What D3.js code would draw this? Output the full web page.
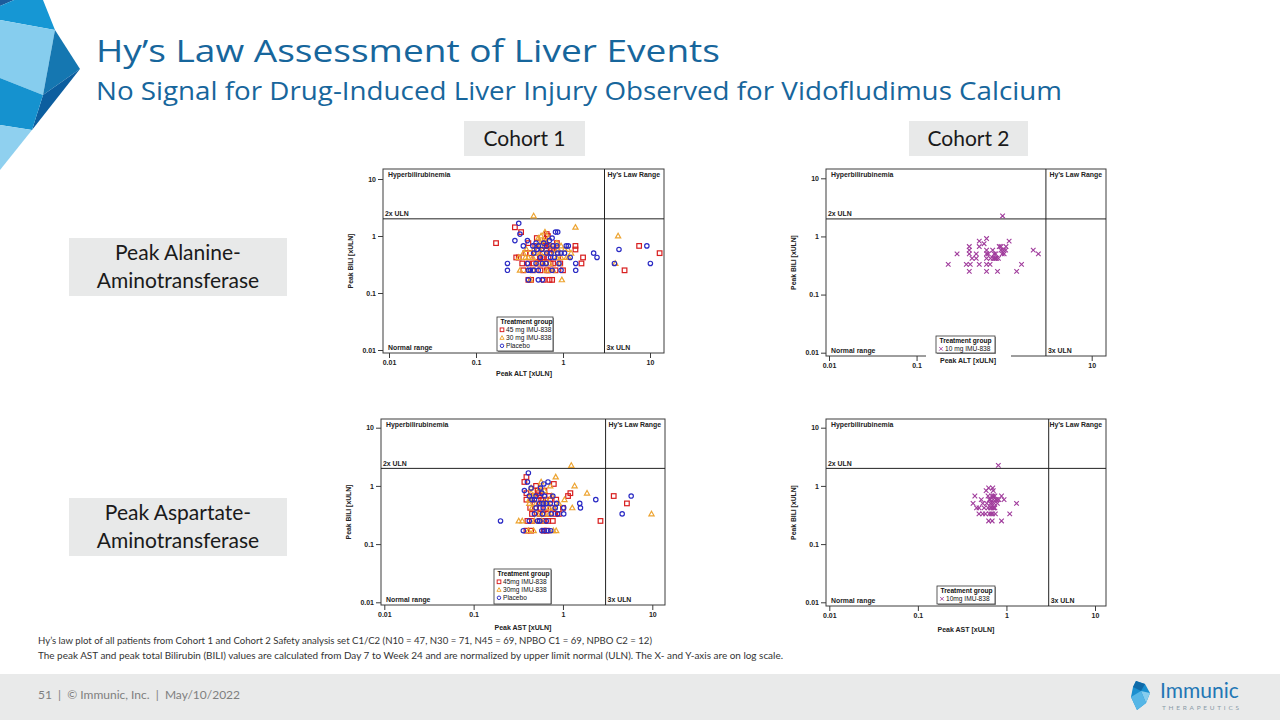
<!DOCTYPE html>
<html>
<head>
<meta charset="utf-8">
<script src="https://cdn.jsdelivr.net/npm/d3@7"></script>
<style>
body { margin: 0; background: #fff; }
svg { display: block; }
</style>
</head>
<body>
<div id="main"></div>
<script>
// axis ticks (log scale, xULN)
var tickValues = [0.01, 0.1, 1, 10];
var tickLabels = ["0.01", "0.1", "1", "10"];

// Cohort 1, peak ALT vs peak BILI  [ALT xULN, BILI xULN]
var c1Alt45 = [[0.17,0.75],[0.28,1.42],[0.33,1.17],[0.40,0.75],[0.29,0.42],[0.31,0.42],[0.34,0.33],[0.35,0.25],[0.40,0.17],[0.43,0.17],
  [0.37,0.5],[0.42,0.5],[0.48,0.67],[0.55,0.67],[0.50,0.92],[0.65,1.08],[0.67,1.0],[0.65,0.58],[0.72,0.58],[0.78,0.58],
  [0.85,0.58],[0.55,0.42],[0.60,0.42],[0.68,0.42],[0.46,0.33],[0.55,0.33],[0.63,0.33],[0.77,0.33],[0.93,0.33],[0.55,0.25],
  [0.68,0.25],[0.82,0.25],[1.0,0.25],[0.70,0.17],[0.75,0.17],[1.39,0.67],[1.39,0.58],[1.70,0.42],[1.63,0.33],[0.85,0.75],
  [0.62,0.83],[0.58,0.5],[0.70,0.5],[0.52,0.58],[0.45,0.25],[7.5,0.67],[12.9,0.5],[5.1,0.25],[0.62,0.75],[0.48,0.42],
  [0.75,0.67],[0.40,0.33],[0.60,0.17],[0.62,0.67],[0.68,0.67],[0.52,0.33],[0.58,0.42],[0.88,0.42],[0.65,0.25],[0.72,0.33]];
var c1Alt30 = [[0.46,2.25],[1.39,1.42],[0.56,1.0],[0.62,1.17],[0.35,0.5],[0.38,0.58],[0.31,0.42],[0.37,0.42],[0.40,0.42],[0.46,0.58],
  [0.60,0.83],[0.52,0.92],[0.85,0.75],[0.95,0.67],[1.14,0.58],[1.24,0.5],[1.16,0.42],[0.85,0.42],[0.95,0.42],[0.32,0.25],
  [0.39,0.25],[0.46,0.25],[0.50,0.33],[0.60,0.33],[0.65,0.25],[0.77,0.25],[0.42,0.17],[0.97,0.17],[4.0,0.33],[4.3,1.0],
  [0.55,0.75],[0.65,0.5],[0.72,0.67],[0.78,0.5],[0.55,0.5],[0.50,0.67],[0.68,0.92],[0.45,0.42],[0.70,0.33],[0.88,0.58],
  [1.05,0.58],[0.58,0.58],[0.48,0.5],[0.90,0.33],[1.10,0.42]];
var c1AltPbo = [[0.31,1.67],[0.32,1.08],[0.28,0.83],[0.35,0.67],[0.23,0.33],[0.23,0.25],[0.39,0.83],[0.49,0.75],[0.75,0.92],[0.82,1.17],
  [0.87,1.17],[0.65,0.67],[0.77,0.67],[0.85,0.67],[0.50,0.58],[0.57,0.58],[0.65,0.5],[0.73,0.5],[0.87,0.5],[0.95,0.5],
  [1.04,0.5],[0.55,0.42],[0.39,0.33],[0.49,0.33],[0.64,0.33],[0.40,0.25],[0.42,0.25],[0.46,0.25],[1.40,0.33],[1.40,0.25],
  [2.25,0.5],[2.46,0.42],[1.21,0.42],[0.40,0.17],[0.52,0.17],[0.58,0.17],[1.09,0.67],[4.4,0.58],[9.2,0.67],[10.1,0.33],
  [3.9,0.33],[0.45,0.67],[0.52,0.67],[0.72,0.42],[0.80,0.42],[0.58,0.33],[0.52,0.25],[0.75,0.25],[0.90,0.33],[0.46,0.5],
  [0.60,0.75],[0.70,0.83],[1.15,0.67],[0.95,0.25]];

// Cohort 1, peak AST vs peak BILI
var c1Ast45 = [[0.39,1.42],[0.37,1.17],[0.39,0.75],[0.39,0.58],[0.50,1.0],[0.53,0.75],[0.47,0.67],[0.55,0.67],[0.57,0.58],[0.60,0.58],
  [0.79,1.08],[1.21,0.75],[1.14,0.67],[0.84,0.58],[0.43,0.42],[0.55,0.42],[0.65,0.42],[0.77,0.42],[0.45,0.33],[0.55,0.33],
  [0.68,0.33],[0.82,0.33],[0.90,0.33],[0.40,0.25],[0.45,0.25],[0.55,0.25],[0.68,0.25],[0.77,0.25],[0.39,0.17],[0.44,0.17],
  [0.61,0.17],[2.63,0.25],[3.7,0.67],[5.2,0.5],[0.62,0.83],[0.65,0.5],[0.48,0.5],[0.58,0.5],[0.72,0.58],[0.50,0.42],
  [0.60,0.33],[0.62,0.25],[0.66,0.17],[0.52,0.83],[0.45,0.58],[0.70,0.67],[1.0,0.42]];
var c1Ast30 = [[1.24,2.25],[0.83,1.42],[0.57,1.17],[1.35,1.0],[1.86,0.75],[1.04,0.58],[1.27,0.42],[0.32,0.25],[0.35,0.25],[0.41,0.17],
  [0.84,0.17],[0.50,0.5],[0.65,0.58],[0.72,1.0],[0.45,0.42],[0.58,0.5],[0.70,0.42],[0.80,0.42],[0.61,0.33],[0.70,0.33],
  [0.48,0.25],[0.58,0.25],[9.8,0.33],[0.44,0.75],[0.47,0.67],[0.44,0.92],[0.55,0.92],[0.75,0.67],[0.42,0.5],[0.52,0.33],
  [0.62,0.83],[0.90,0.5],[0.47,0.17],[0.78,0.17],[0.42,0.58],[0.68,0.5]];
var c1AstPbo = [[0.41,1.67],[0.40,1.17],[0.68,1.17],[0.61,1.08],[0.37,0.83],[0.44,0.92],[0.58,0.75],[0.77,0.67],[0.20,0.25],[0.36,0.17],
  [0.68,0.17],[0.73,0.17],[1.54,0.5],[1.57,0.42],[2.33,0.58],[1.02,0.42],[1.02,0.33],[0.55,0.5],[0.60,0.5],[0.65,0.5],
  [0.48,0.33],[0.59,0.33],[0.74,0.33],[0.52,0.25],[0.55,0.25],[0.65,0.25],[0.87,0.33],[4.6,0.33],[5.8,0.67],[0.42,0.67],
  [0.50,0.67],[0.62,0.67],[0.45,0.58],[0.72,0.5],[0.82,0.42],[0.60,0.42],[0.50,0.42],[0.42,0.25],[0.58,0.17],[0.62,0.17],
  [0.85,0.5],[0.48,0.58],[0.56,0.92]];

// Cohort 2 (10 mg), peak ALT / peak AST vs peak BILI
var c2Alt10 = [[0.96,2.25],[0.23,0.33],[0.29,0.5],[0.37,0.33],[0.41,0.33],[0.40,0.67],[0.40,0.58],[0.40,0.5],[0.40,0.25],[0.43,0.42],
  [0.48,0.5],[0.48,0.42],[0.52,0.83],[0.52,0.67],[0.52,0.33],[0.59,0.75],[0.63,0.92],[0.63,0.58],[0.63,0.5],[0.63,0.42],
  [0.63,0.33],[0.69,0.33],[0.63,0.25],[0.74,0.58],[0.77,0.5],[0.80,0.5],[0.75,0.42],[0.78,0.42],[0.82,0.42],[0.86,0.42],
  [0.84,0.25],[0.88,0.67],[0.92,0.58],[0.98,0.58],[1.04,0.58],[1.05,0.67],[1.0,0.5],[1.14,0.83],[1.39,0.25],[1.58,0.33],
  [2.15,0.58],[2.46,0.5],[0.70,0.42],[0.95,0.5],[0.66,0.5],[0.80,0.42],[0.92,0.67]];
var c2Ast10 = [[0.81,2.25],[0.44,0.67],[0.42,0.5],[0.46,0.42],[0.49,0.42],[0.49,0.33],[0.54,0.33],[0.58,0.33],[0.52,0.58],[0.54,0.5],
  [0.59,0.83],[0.63,0.92],[0.62,0.67],[0.64,0.58],[0.66,0.5],[0.66,0.42],[0.62,0.42],[0.64,0.33],[0.67,0.33],[0.70,0.33],
  [0.63,0.25],[0.69,0.25],[0.71,0.83],[0.71,0.67],[0.71,0.58],[0.73,0.5],[0.76,0.58],[0.71,0.42],[0.72,0.42],[0.78,0.58],
  [0.79,0.5],[0.88,0.25],[0.88,0.67],[0.94,0.58],[1.09,0.33],[1.30,0.5],[0.68,0.67],[0.69,0.5],[0.74,0.42],[0.60,0.5],
  [0.66,0.58],[0.75,0.33],[0.70,0.92],[0.82,0.58],[0.56,0.42],[0.74,0.67],[0.68,0.42]];

var svg = d3.select("#main").append("svg")
  .attr("width", 1280)
  .attr("height", 720);

svg.append("rect").attr("width", 1280).attr("height", 720).attr("fill", "#fff");

// corner decoration (faceted logo shape)
var facets = [
  {pts: "0,0 14,0 0,6", c: "#1c5c9c"},
  {pts: "0,6 14,0 43,0 55,30 0,20", c: "#1697d4"},
  {pts: "0,20 55,30 43,95 0,78", c: "#86cdee"},
  {pts: "55,30 80,69 43,95", c: "#1577b1"},
  {pts: "80,69 43,95 32,130", c: "#0c5e9f"},
  {pts: "0,78 43,95 32,130 0,125", c: "#1592cf"},
  {pts: "0,125 32,130 0,170", c: "#8fd0ef"}
];
svg.selectAll("polygon.facet").data(facets).enter().append("polygon")
  .attr("class", "facet")
  .attr("points", function(d) { return d.pts; })
  .attr("fill", function(d) { return d.c; });

// titles
svg.append("text").attr("x", 96).attr("y", 62)
  .attr("font-family", "Open Sans").attr("font-size", 31).attr("fill", "#17669c")
  .attr("textLength", 624).attr("lengthAdjust", "spacingAndGlyphs")
  .text("Hy\u2019s Law Assessment of Liver Events");
svg.append("text").attr("x", 96).attr("y", 100)
  .attr("font-family", "Open Sans").attr("font-size", 25).attr("fill", "#17669c")
  .attr("textLength", 966).attr("lengthAdjust", "spacingAndGlyphs")
  .text("No Signal for Drug-Induced Liver Injury Observed for Vidofludimus Calcium");

// grey label boxes
var boxes = [
  {x: 464, y: 121, w: 121, h: 35, lines: ["Cohort 1"]},
  {x: 909, y: 121, w: 119, h: 35, lines: ["Cohort 2"]},
  {x: 69, y: 238, w: 218, h: 58, lines: ["Peak Alanine-", "Aminotransferase"]},
  {x: 69, y: 498, w: 218, h: 58, lines: ["Peak Aspartate-", "Aminotransferase"]}
];
boxes.forEach(function(b) {
  svg.append("rect").attr("x", b.x).attr("y", b.y).attr("width", b.w).attr("height", b.h).attr("fill", "#e8e9e9");
  var n = b.lines.length;
  b.lines.forEach(function(l, i) {
    svg.append("text")
      .attr("x", b.x + b.w / 2)
      .attr("y", b.y + b.h / 2 + (i - (n - 1) / 2) * 28.5 + 7)
      .attr("text-anchor", "middle")
      .attr("font-family", "Lato").attr("font-size", 21).attr("fill", "#1a1a1a")
      .text(l);
  });
});

var fontPlot = "Liberation Sans";

function marker(sel, type, color) {
  if (type == "square") {
    sel.append("rect").attr("x", -2.3).attr("y", -2.3).attr("width", 4.6).attr("height", 4.6)
      .attr("fill", "none").attr("stroke", color).attr("stroke-width", 1.2);
  } else if (type == "triangle") {
    sel.append("path").attr("d", "M0,-2.7L2.6,1.9L-2.6,1.9Z")
      .attr("fill", "none").attr("stroke", color).attr("stroke-width", 1.2);
  } else if (type == "circle") {
    sel.append("circle").attr("r", 2.2)
      .attr("fill", "none").attr("stroke", color).attr("stroke-width", 1.2);
  } else {
    sel.append("path").attr("d", "M-2.3,-2.3L2.3,2.3M-2.3,2.3L2.3,-2.3")
      .attr("fill", "none").attr("stroke", color).attr("stroke-width", 1.1);
  }
}

function drawPanel(p) {
  var x = d3.scaleLog().domain([0.01, 10]).range([p.x0, p.x1]);
  var y = d3.scaleLog().domain([0.01, 10]).range([p.y0, p.y1]);
  var g = svg.append("g");

  g.append("rect")
    .attr("x", p.fl).attr("y", p.ft)
    .attr("width", p.fr - p.fl).attr("height", p.fb - p.ft)
    .attr("fill", "#fff").attr("stroke", "#3c3c3c").attr("stroke-width", 1);

  var yAxis = g.append("g").attr("transform", "translate(" + p.fl + ",0)")
    .call(d3.axisLeft(y).tickValues(tickValues).tickFormat(function(d, i) { return tickLabels[i]; })
      .tickSize(5).tickPadding(2));
  var xAxis = g.append("g").attr("transform", "translate(0," + p.fb + ")")
    .call(d3.axisBottom(x).tickValues(tickValues).tickFormat(function(d, i) { return tickLabels[i]; })
      .tickSize(5).tickPadding(2));
  [yAxis, xAxis].forEach(function(a) {
    a.select(".domain").remove();
    a.selectAll("line").attr("stroke", "#3c3c3c");
    a.selectAll("text").attr("font-family", fontPlot).attr("font-size", 7)
      .attr("font-weight", "bold").attr("fill", "#222");
  });

  // reference lines: 2x ULN bilirubin, 3x ULN transaminase
  g.append("line").attr("x1", p.fl).attr("x2", p.fr).attr("y1", y(2)).attr("y2", y(2))
    .attr("stroke", "#222").attr("stroke-width", 1);
  g.append("line").attr("x1", x(3)).attr("x2", x(3)).attr("y1", p.ft).attr("y2", p.fb)
    .attr("stroke", "#222").attr("stroke-width", 1);

  function lab(tx, ty, t, anchor) {
    g.append("text").attr("x", tx).attr("y", ty).attr("text-anchor", anchor || "start")
      .attr("font-family", fontPlot).attr("font-size", 6.9).attr("font-weight", "bold")
      .attr("fill", "#222").text(t);
  }
  lab(p.fl + 5, p.ft + 8, "Hyperbilirubinemia");
  lab(p.fr - 4, p.ft + 8, "Hy\u2019s Law Range", "end");
  lab(p.fl + 2, y(2) - 2.5, "2x ULN");
  lab(p.fl + 5, p.fb - 3.5, "Normal range");
  lab(x(3) + 2, p.fb - 3.5, "3x ULN");

  // points
  p.series.forEach(function(s) {
    g.selectAll(null).data(s.data).enter().append("g")
      .attr("transform", function(d) { return "translate(" + x(d[0]) + "," + y(d[1]) + ")"; })
      .each(function() { marker(d3.select(this), s.type, s.color); });
  });

  // axis titles
  if (p.titleBox) {
    g.append("rect").attr("x", p.titleBox[0]).attr("y", p.titleBox[1])
      .attr("width", p.titleBox[2]).attr("height", p.titleBox[3]).attr("fill", "#fff");
  }
  g.append("text").attr("x", p.titleX).attr("y", p.titleY).attr("text-anchor", "middle")
    .attr("font-family", fontPlot).attr("font-size", 7).attr("font-weight", "bold")
    .attr("fill", "#222").text(p.xTitle);
  g.append("text")
    .attr("transform", "translate(" + (p.fl - 30) + "," + ((p.ft + p.fb) / 2) + ") rotate(-90)")
    .attr("text-anchor", "middle")
    .attr("font-family", fontPlot).attr("font-size", 6.8).attr("font-weight", "bold")
    .attr("fill", "#222").text("Peak BILI [xULN]");

  // legend
  var L = p.legend;
  var lg = g.append("g").attr("transform", "translate(" + L.x + "," + L.y + ")");
  lg.append("rect").attr("x", 1).attr("y", 1).attr("width", L.w).attr("height", L.h).attr("fill", "#999");
  lg.append("rect").attr("width", L.w).attr("height", L.h)
    .attr("fill", "#fff").attr("stroke", "#333").attr("stroke-width", 0.8);
  lg.append("text").attr("x", 3.5).attr("y", 7)
    .attr("font-family", fontPlot).attr("font-size", 6.6).attr("fill", "#111")
    .attr("font-weight", "bold").text("Treatment group");
  p.series.forEach(function(s, i) {
    var row = lg.append("g").attr("transform", "translate(0," + (15 + i * 8) + ")");
    marker(row.append("g").attr("transform", "translate(5,-2.2) scale(0.8)"), s.type, s.color);
    row.append("text").attr("x", 9).attr("y", 0)
      .attr("font-family", fontPlot).attr("font-size", 6.6).attr("fill", "#111")
      .text(s.name);
  });
}

var red = "#d81e1e", orange = "#eda431", blue = "#2a2ac4", purple = "#a03c9c";

drawPanel({
  fl: 383, fr: 664, ft: 169, fb: 353, x0: 389, x1: 650, y0: 350, y1: 179,
  titleX: 524, titleY: 376, xTitle: "Peak ALT [xULN]",
  legend: {x: 497, y: 317, w: 56, h: 34},
  series: [
    {name: "45 mg IMU-838", type: "square", color: red, data: c1Alt45},
    {name: "30 mg IMU-838", type: "triangle", color: orange, data: c1Alt30},
    {name: "Placebo", type: "circle", color: blue, data: c1AltPbo}
  ]
});

drawPanel({
  fl: 826, fr: 1106, ft: 169, fb: 356, x0: 829, x1: 1091.7, y0: 352.7, y1: 178.3,
  titleX: 968, titleY: 362.5, xTitle: "Peak ALT [xULN]", titleBox: [926, 354.5, 85, 16],
  legend: {x: 936, y: 336, w: 59, h: 17},
  series: [
    {name: "10 mg IMU-838", type: "cross", color: purple, data: c2Alt10}
  ]
});

drawPanel({
  fl: 381, fr: 665, ft: 419, fb: 605, x0: 384.3, x1: 652.3, y0: 602.3, y1: 427.7,
  titleX: 523, titleY: 630, xTitle: "Peak AST [xULN]",
  legend: {x: 494, y: 569, w: 57, h: 35},
  series: [
    {name: "45mg IMU-838", type: "square", color: red, data: c1Ast45},
    {name: "30mg IMU-838", type: "triangle", color: orange, data: c1Ast30},
    {name: "Placebo", type: "circle", color: blue, data: c1AstPbo}
  ]
});

drawPanel({
  fl: 826, fr: 1106, ft: 419, fb: 606, x0: 829.3, x1: 1095, y0: 602.3, y1: 427.7,
  titleX: 966, titleY: 632, xTitle: "Peak AST [xULN]",
  legend: {x: 937, y: 586, w: 58, h: 18},
  series: [
    {name: "10mg IMU-838", type: "cross", color: purple, data: c2Ast10}
  ]
});

// footnotes
svg.append("text").attr("x", 38).attr("y", 644)
  .attr("font-family", "Lato").attr("font-size", 9.5).attr("fill", "#333")
  .attr("textLength", 614).attr("lengthAdjust", "spacingAndGlyphs")
  .text("Hy\u2019s law plot of all patients from Cohort 1 and Cohort 2 Safety analysis set C1/C2 (N10 = 47, N30 = 71, N45 = 69, NPBO C1 = 69, NPBO C2 = 12)");
svg.append("text").attr("x", 38).attr("y", 659)
  .attr("font-family", "Lato").attr("font-size", 9.5).attr("fill", "#333")
  .attr("textLength", 745).attr("lengthAdjust", "spacingAndGlyphs")
  .text("The peak AST and peak total Bilirubin (BILI) values are calculated from Day 7 to Week 24 and are normalized by upper limit normal (ULN). The X- and Y-axis are on log scale.");

// footer band
svg.append("rect").attr("x", 0).attr("y", 674).attr("width", 1280).attr("height", 46).attr("fill", "#e9eaea");
svg.append("text").attr("x", 38).attr("y", 699)
  .attr("font-family", "Lato").attr("font-size", 12).attr("fill", "#7f7f7f")
  .attr("xml:space", "preserve")
  .text("51  |  \u00a9 Immunic, Inc.  |  May/10/2022");

// footer logo
var logo = svg.append("g").attr("transform", "translate(1131,681)");
[
  {pts: "5,0 14,3 19,12 15,22 6,29 0,16 2,6", c: "#1a8fcf"},
  {pts: "5,0 14,3 10,10 2,6", c: "#0f6aa8"},
  {pts: "10,10 19,12 15,22", c: "#86cdee"},
  {pts: "0,16 10,10 15,22 6,29", c: "#56b6e6"}
].forEach(function(f) {
  logo.append("polygon").attr("points", f.pts).attr("fill", f.c);
});
svg.append("text").attr("x", 1160).attr("y", 698)
  .attr("font-family", "Lato").attr("font-size", 21).attr("fill", "#2377b5")
  .text("Immunic");
svg.append("text").attr("x", 1162).attr("y", 710)
  .attr("font-family", "Lato").attr("font-size", 6.5).attr("fill", "#8a9aa8")
  .attr("textLength", 77).attr("lengthAdjust", "spacing")
  .text("THERAPEUTICS");
</script>
</body>
</html>
